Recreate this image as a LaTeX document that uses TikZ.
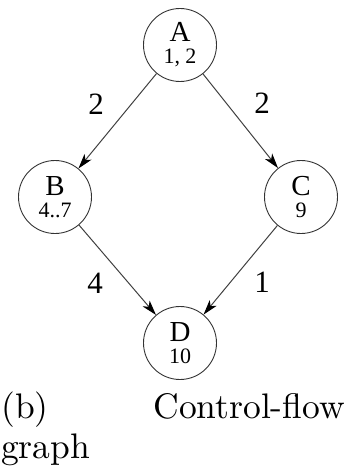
\documentclass[tikz,border=0pt]{standalone}
\usepackage{fontspec}
\newfontfamily\tms{Liberation Serif}
\usetikzlibrary{arrows.meta}
\begin{document}
\begin{tikzpicture}[x=1pt,y=-1pt,
  vert/.style={circle,draw=black!80,line width=0.9pt,minimum size=73pt,inner sep=0pt,
    align=center,font=\tms\fontsize{22}{21}\selectfont},
  edge/.style={draw=black!75,line width=1pt,-{Stealth[length=15pt,width=9pt,inset=4pt,black]}},
  elbl/.style={font=\tms\fontsize{31}{31}\selectfont,inner sep=0pt},
  capt/.style={inner sep=0pt}]
\useasboundingbox (0,0) rectangle (351,468);
\node[vert] (A) at (180,45) {{\fontsize{29}{29}\selectfont A}\\[1pt]1, 2};
\node[vert] (B) at (55,197) {{\fontsize{29}{29}\selectfont B}\\[1pt]4..7};
\node[vert] (C) at (301,197) {{\fontsize{29}{29}\selectfont C}\\[1pt]9};
\node[vert] (D) at (180,343) {{\fontsize{29}{29}\selectfont D}\\[1pt]10};
\draw[edge] (A) -- (B);
\draw[edge] (A) -- (C);
\draw[edge] (B) -- (D);
\draw[edge] (C) -- (D);
\node[elbl] (l1) at (96,104) {2};
\node[elbl] (l2) at (262,103) {2};
\node[elbl] (l3) at (95,283) {4};
\node[elbl] (l4) at (262,282) {1};
\node[capt,anchor=base west] (c1) at (1,418) {\scalebox{3.55}{(b)}};
\node[capt,anchor=base east] (c2) at (345,418) {\scalebox{3.55}{Control-flow}};
\node[capt,anchor=base west] (c3) at (1,458) {\scalebox{3.55}{graph}};
\end{tikzpicture}
\end{document}
